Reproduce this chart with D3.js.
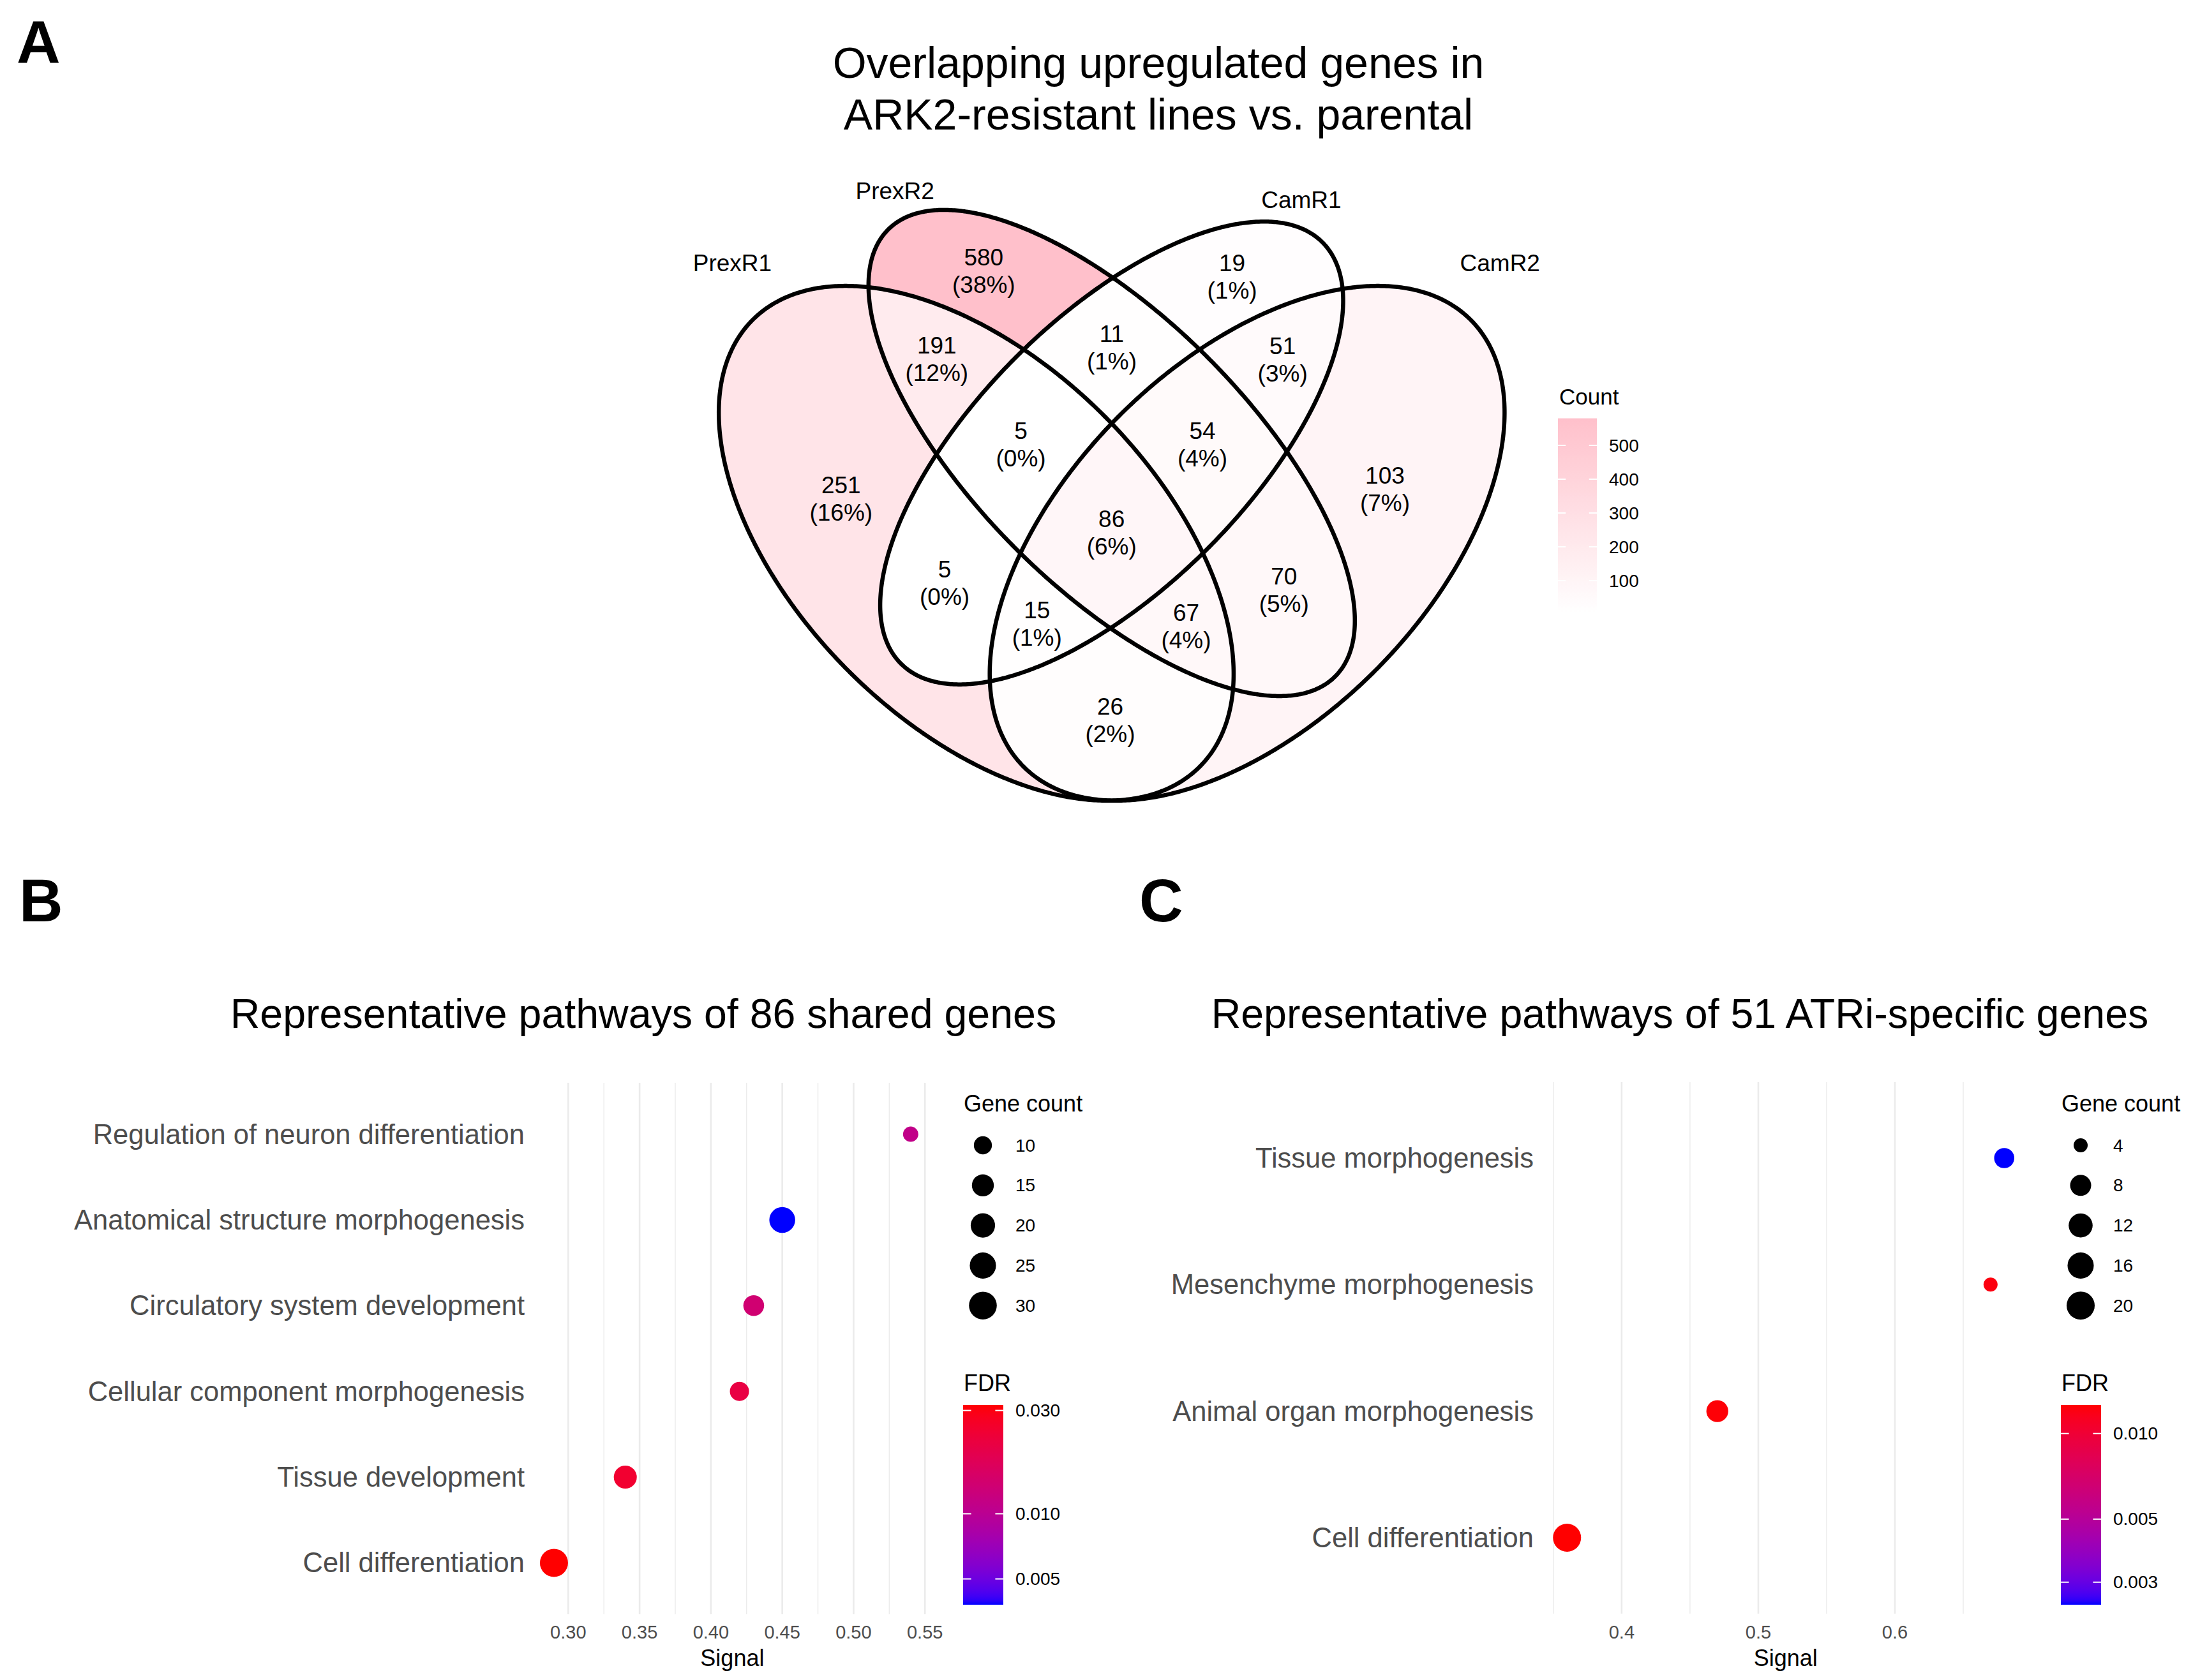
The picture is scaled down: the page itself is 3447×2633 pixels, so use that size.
<!DOCTYPE html>
<html>
<head>
<meta charset="utf-8">
<script src="https://cdn.jsdelivr.net/npm/d3@7"></script>
<style>
body { margin: 0; background: #fff; }
text { font-family: "Liberation Sans", Arial, Helvetica, sans-serif; }
</style>
</head>
<body>
<div id="container"></div>
<script>
// ---- data ----
const setNames = ["PrexR1", "PrexR2", "CamR1", "CamR2"];
// regions as set index lists (0 PrexR1, 1 PrexR2, 2 CamR1, 3 CamR2)
const regionSets = [[0],[1],[2],[3],[0,1],[1,2],[2,3],[0,1,2],[1,2,3],[0,1,2,3],[0,2],[0,2,3],[0,1,3],[1,3],[0,3]];
const regionCounts = [251, 580, 19, 103, 191, 11, 51, 5, 54, 86, 5, 15, 67, 70, 26];
const countTicks = [100, 200, 300, 400, 500];

const termsB = ["Regulation of neuron differentiation", "Anatomical structure morphogenesis",
  "Circulatory system development", "Cellular component morphogenesis",
  "Tissue development", "Cell differentiation"];
const signalB = [0.54, 0.45, 0.43, 0.42, 0.34, 0.29];
const countB = [9, 24, 13, 11, 17, 31];
const fdrB = [0.0110, 0.0038, 0.0136, 0.0208, 0.0246, 0.0318];
const signalTicksB = [0.30, 0.35, 0.40, 0.45, 0.50, 0.55];
const sizeBreaksB = [10, 15, 20, 25, 30];
const fdrBreaksB = [0.005, 0.010, 0.030];

const termsC = ["Tissue morphogenesis", "Mesenchyme morphogenesis",
  "Animal organ morphogenesis", "Cell differentiation"];
const signalC = [0.68, 0.67, 0.47, 0.36];
const countC = [7, 4, 9, 20];
const fdrC = [0.0025, 0.0121, 0.0124, 0.0126];
const signalTicksC = [0.4, 0.5, 0.6];
const sizeBreaksC = [4, 8, 12, 16, 20];
const fdrBreaksC = [0.003, 0.005, 0.010];

// ---- layout ----
const W = 3447, H = 2633;

const svg = d3.select("#container").append("svg")
  .attr("width", W).attr("height", H)
  .attr("viewBox", `0 0 ${W} ${H}`);
svg.append("rect").attr("width", W).attr("height", H).attr("fill", "#fff");
const defs = svg.append("defs");

// panel letters
[["A", 26, 99], ["B", 30, 1444], ["C", 1785, 1444]].forEach(([t, x, y]) => {
  svg.append("text").attr("x", x).attr("y", y).attr("font-size", 95)
    .attr("font-weight", "bold").text(t);
});

// ================= Venn =================
const ellipses = [
  {cx: 0.35, cy: 0.47, a: 0.35, b: 0.20, rot: 135},
  {cx: 0.50, cy: 0.57, a: 0.35, b: 0.15, rot: 135},
  {cx: 0.50, cy: 0.57, a: 0.33, b: 0.15, rot: 45},
  {cx: 0.65, cy: 0.47, a: 0.35, b: 0.20, rot: 45}
];
const labelPos = [[0.08, 0.78], [0.26, 0.86], [0.71, 0.85], [0.93, 0.78]];

const xV = d3.scaleLinear().domain([0, 1]).range([1034.3, 2449.3]);
const yV = d3.scaleLinear().domain([0, 1]).range([1516.5, 101.5]);

function ellipsePoints(e) {
  const th = e.rot * Math.PI / 180, pts = [];
  for (let i = 0; i < 720; i++) {
    const t = i / 720 * 2 * Math.PI;
    pts.push([e.cx + e.a * Math.cos(t) * Math.cos(th) - e.b * Math.sin(t) * Math.sin(th),
              e.cy + e.a * Math.cos(t) * Math.sin(th) + e.b * Math.sin(t) * Math.cos(th)]);
  }
  return pts;
}
function inside(e, x, y) {
  const th = e.rot * Math.PI / 180, dx = x - e.cx, dy = y - e.cy;
  const u = dx * Math.cos(th) + dy * Math.sin(th);
  const v = -dx * Math.sin(th) + dy * Math.cos(th);
  return (u * u) / (e.a * e.a) + (v * v) / (e.b * e.b) <= 1;
}
const ellLine = d3.line().x(p => xV(p[0])).y(p => yV(p[1])).curve(d3.curveLinearClosed);
const ellPath = ellipses.map(e => ellLine(ellipsePoints(e)));

const total = d3.sum(regionCounts);
const fillV = d3.scaleLinear().domain(d3.extent(regionCounts))
  .range(["white", "pink"]).interpolate(d3.interpolateLab);

ellPath.forEach((d, i) => defs.append("clipPath").attr("id", "clip" + i).append("path").attr("d", d));

const vennG = svg.append("g");
regionSets.forEach((sets, k) => {
  const excl = [0, 1, 2, 3].filter(i => !sets.includes(i));
  const mask = defs.append("mask").attr("id", "mask" + k)
    .attr("maskUnits", "userSpaceOnUse").attr("x", 0).attr("y", 0).attr("width", W).attr("height", H);
  mask.append("rect").attr("width", W).attr("height", H).attr("fill", "white");
  excl.forEach(i => mask.append("path").attr("d", ellPath[i]).attr("fill", "black"));
  let g = vennG;
  sets.forEach(i => { g = g.append("g").attr("clip-path", `url(#clip${i})`); });
  g.append("rect").attr("width", W).attr("height", H)
    .attr("fill", fillV(regionCounts[k])).attr("mask", `url(#mask${k})`);
});

vennG.selectAll("path.ell").data(ellPath).enter().append("path")
  .attr("class", "ell").attr("d", d => d)
  .attr("fill", "none").attr("stroke", "#000").attr("stroke-width", 6.5);

// region centroids by sampling
const keyOf = s => s.join("");
const acc = {};
const step = 0.0015;
for (let x = 0; x <= 1; x += step) {
  for (let y = 0; y <= 1; y += step) {
    const s = [];
    ellipses.forEach((e, i) => { if (inside(e, x, y)) s.push(i); });
    if (!s.length) continue;
    const k = keyOf(s);
    if (!acc[k]) acc[k] = [0, 0, 0];
    acc[k][0] += x; acc[k][1] += y; acc[k][2]++;
  }
}
regionSets.forEach((sets, k) => {
  const a = acc[keyOf(sets)];
  const cx = xV(a[0] / a[2]), cy = yV(a[1] / a[2]);
  const t = vennG.append("text").attr("text-anchor", "middle").attr("font-size", 37);
  t.append("tspan").attr("x", cx).attr("y", cy - 21.5).attr("dominant-baseline", "central")
    .text(regionCounts[k]);
  t.append("tspan").attr("x", cx).attr("y", cy + 21.5).attr("dominant-baseline", "central")
    .text("(" + Math.round(regionCounts[k] / total * 100) + "%)");
});

setNames.forEach((n, i) => {
  vennG.append("text").attr("x", xV(labelPos[i][0])).attr("y", yV(labelPos[i][1]))
    .attr("text-anchor", "middle").attr("dominant-baseline", "central")
    .attr("font-size", 37).text(n);
});

// title
["Overlapping upregulated genes in", "ARK2-resistant lines vs. parental"].forEach((t, i) => {
  svg.append("text").attr("x", 1815).attr("y", 122 + i * 81)
    .attr("text-anchor", "middle").attr("font-size", 68).text(t);
});

// colour bar helper
function colorbar(g, x, y0, y1, w, scale, breaks, fmt, grad) {
  const lg = defs.append("linearGradient").attr("id", grad)
    .attr("x1", 0).attr("y1", 1).attr("x2", 0).attr("y2", 0);
  d3.range(0, 1.0001, 0.02).forEach(f => {
    lg.append("stop").attr("offset", f).attr("stop-color", g.colorAt(f));
  });
  g.append("rect").attr("x", x).attr("y", y0).attr("width", w).attr("height", y1 - y0)
    .attr("fill", `url(#${grad})`);
  breaks.forEach(b => {
    const yy = scale(b);
    g.append("line").attr("x1", x).attr("x2", x + w / 5).attr("y1", yy).attr("y2", yy)
      .attr("stroke", "#fff").attr("stroke-width", 2);
    g.append("line").attr("x1", x + w * 4 / 5).attr("x2", x + w).attr("y1", yy).attr("y2", yy)
      .attr("stroke", "#fff").attr("stroke-width", 2);
    g.append("text").attr("x", x + w + 19).attr("y", yy).attr("dominant-baseline", "central")
      .attr("font-size", 28).text(fmt(b));
  });
}

// Count legend
const countLeg = svg.append("g");
const yCount = d3.scaleLinear().domain(d3.extent(regionCounts)).range([960.4, 655.6]);
countLeg.colorAt = f => fillV(yCount.invert(960.4 - f * (960.4 - 655.6)));
countLeg.append("text").attr("x", 2443).attr("y", 621).attr("dominant-baseline", "central")
  .attr("font-size", 35).text("Count");
colorbar(countLeg, 2441, 655.6, 960.4, 61, yCount, countTicks, d3.format("d"), "gradCount");

// ================= Dot plots =================
function dotPanel(opt) {
  const g = svg.append("g");
  const x = d3.scaleLinear().domain(opt.xdom).range(opt.xr);
  const y = d3.scalePoint().domain(opt.terms).range(opt.yr).padding(0.6);
  const col = d3.scaleLog().domain(d3.extent(opt.fdr)).range(["blue", "red"])
    .interpolate(d3.interpolateLab);
  const norm = d3.scaleLinear().domain(d3.extent(opt.count)).range([0, 1]);
  const rad = d3.scaleLinear().domain([0, 1]).range(opt.rr);
  const r = v => rad(Math.sqrt(Math.max(0, norm(v))));

  // grid
  const ticks = opt.ticks;
  const stepT = ticks[1] - ticks[0];
  const minor = d3.range(ticks[0] - stepT / 2, ticks[ticks.length - 1] + stepT, stepT)
    .filter(v => v >= opt.xdom[0] && v <= opt.xdom[1]);
  g.selectAll("line.minor").data(minor).enter().append("line")
    .attr("x1", d => x(d)).attr("x2", d => x(d)).attr("y1", opt.yr[0]).attr("y2", opt.yr[1])
    .attr("stroke", "#EBEBEB").attr("stroke-width", 1.4);
  g.selectAll("line.major").data(ticks).enter().append("line")
    .attr("x1", d => x(d)).attr("x2", d => x(d)).attr("y1", opt.yr[0]).attr("y2", opt.yr[1])
    .attr("stroke", "#EBEBEB").attr("stroke-width", 2.6);

  // x axis labels
  g.selectAll("text.xt").data(ticks).enter().append("text")
    .attr("x", d => x(d)).attr("y", 2558).attr("text-anchor", "middle")
    .attr("dominant-baseline", "central").attr("font-size", 29).attr("fill", "#4D4D4D")
    .text(opt.tickFmt);
  g.append("text").attr("x", (opt.xr[0] + opt.xr[1]) / 2).attr("y", 2598)
    .attr("text-anchor", "middle").attr("dominant-baseline", "central")
    .attr("font-size", 36).text("Signal");

  // y labels
  g.selectAll("text.yt").data(opt.terms).enter().append("text")
    .attr("x", opt.xr[0] - 18).attr("y", d => y(d)).attr("text-anchor", "end")
    .attr("dominant-baseline", "central").attr("font-size", 43.5).attr("fill", "#4D4D4D")
    .text(d => d);

  // points
  g.selectAll("circle.pt").data(opt.terms).enter().append("circle")
    .attr("cx", (d, i) => x(opt.signal[i])).attr("cy", d => y(d))
    .attr("r", (d, i) => r(opt.count[i])).attr("fill", (d, i) => col(opt.fdr[i]));

  // title
  svg.append("text").attr("x", opt.titleX).attr("y", 1611).attr("text-anchor", "middle")
    .attr("font-size", 64.5).text(opt.title);

  // size legend
  const lx = opt.legX;
  g.append("text").attr("x", lx).attr("y", 1729).attr("dominant-baseline", "central")
    .attr("font-size", 36).text("Gene count");
  opt.sizeBreaks.forEach((b, i) => {
    const yy = 1795 + i * 62.8;
    g.append("circle").attr("cx", lx + 30).attr("cy", yy).attr("r", r(b)).attr("fill", "#000");
    g.append("text").attr("x", lx + 81).attr("y", yy).attr("dominant-baseline", "central")
      .attr("font-size", 28).text(b);
  });

  // FDR legend
  g.append("text").attr("x", lx).attr("y", 2167).attr("dominant-baseline", "central")
    .attr("font-size", 36).text("FDR");
  const yb = d3.scaleLog().domain(d3.extent(opt.fdr)).range([2515, 2202]);
  g.colorAt = f => col(yb.invert(2515 - f * (2515 - 2202)));
  colorbar(g, lx - 1, 2202, 2515, 63, yb, opt.fdrBreaks, d3.format(".3f"), opt.grad);
}

dotPanel({
  terms: termsB, signal: signalB, count: countB, fdr: fdrB,
  xdom: [0.2775, 0.5525], xr: [840, 1454.8], yr: [1697, 2530],
  rr: [12, 22], ticks: signalTicksB, tickFmt: d3.format(".2f"),
  title: "Representative pathways of 86 shared genes", titleX: 1008,
  legX: 1510, sizeBreaks: sizeBreaksB, fdrBreaks: fdrBreaksB, grad: "gradB"
});
dotPanel({
  terms: termsC, signal: signalC, count: countC, fdr: fdrC,
  xdom: [0.344, 0.696], xr: [2421, 3174.5], yr: [1696, 2529],
  rr: [11, 22], ticks: signalTicksC, tickFmt: d3.format(".1f"),
  title: "Representative pathways of 51 ATRi-specific genes", titleX: 2632,
  legX: 3230, sizeBreaks: sizeBreaksC, fdrBreaks: fdrBreaksC, grad: "gradC"
});
</script>
</body>
</html>
